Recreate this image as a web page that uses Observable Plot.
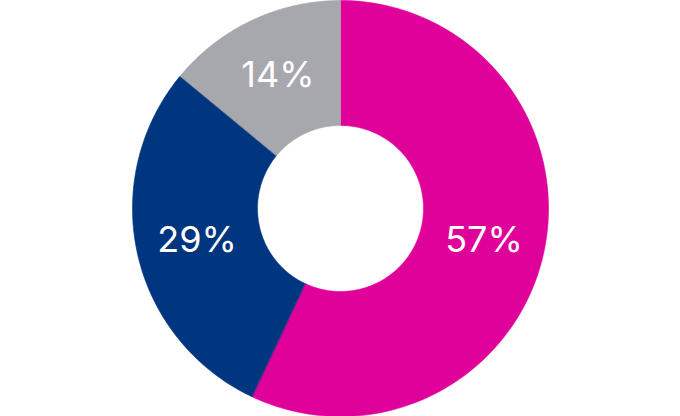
<!DOCTYPE html>
<html>
<head>
<meta charset="utf-8">
<script src="https://cdn.jsdelivr.net/npm/d3@7"></script>
<script src="https://cdn.jsdelivr.net/npm/@observablehq/plot@0.6"></script>
<style>
  html, body { margin: 0; padding: 0; background: #fff; }
</style>
</head>
<body>
<div id="chart"></div>
<script>
const categories = ["Segment A", "Segment B", "Segment C"];
const values = [57, 29, 14];
const labels = ["57%", "29%", "14%"];
const colors = ["#e0009a", "#003580", "#a7a8ad"];

const W = 680, H = 416;
const outer = 1, inner = 83 / 208, labelR = 147 / 208;
const aspect = W / H;

const pie = d3.pie().sort(null).value(d => d.value)(
  categories.map((c, i) => ({ key: c, value: values[i], label: labels[i] }))
);

// polygon points along each slice (outer arc forward, inner arc back)
const points = [];
pie.forEach(s => {
  const n = 120;
  for (let k = 0; k <= n; k++) {
    const a = s.startAngle + (s.endAngle - s.startAngle) * k / n;
    points.push({ key: s.data.key, x: outer * Math.sin(a), y: outer * Math.cos(a) });
  }
  for (let k = n; k >= 0; k--) {
    const a = s.startAngle + (s.endAngle - s.startAngle) * k / n;
    points.push({ key: s.data.key, x: inner * Math.sin(a), y: inner * Math.cos(a) });
  }
});

const labelData = pie.map(s => {
  const a = (s.startAngle + s.endAngle) / 2;
  return { key: s.data.key, label: s.data.label, x: labelR * Math.sin(a), y: labelR * Math.cos(a) };
});

const chart = Plot.plot({
  width: W,
  height: H,
  margin: 0,
  x: { domain: [-aspect, aspect], axis: null },
  y: { domain: [-1, 1], axis: null },
  color: { type: "ordinal", domain: categories, range: colors },
  style: { fontFamily: "Inter, 'Open Sans', sans-serif", background: "#fff" },
  marks: [
    Plot.line(points, { x: "x", y: "y", z: "key", fill: "key", stroke: "key", strokeWidth: 0.6, curve: "linear-closed" }),
    Plot.text(labelData, { x: "x", y: "y", text: "label", fill: "white", fontSize: 36, fontWeight: 400 })
  ]
});
document.getElementById("chart").appendChild(chart);
</script>
</body>
</html>
